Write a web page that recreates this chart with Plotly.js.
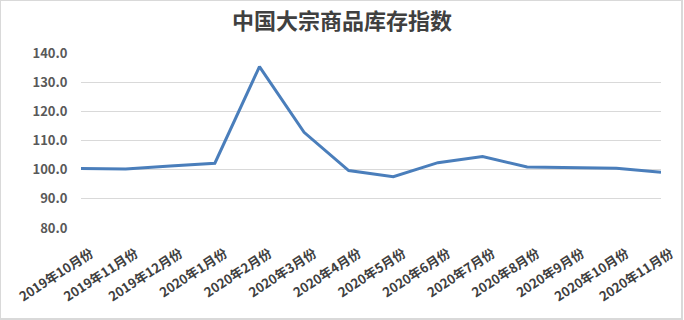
<!DOCTYPE html>
<html>
<head>
<meta charset="utf-8">
<script src="https://cdn.plot.ly/plotly-3.0.1.min.js"></script>
<style>
html,body{margin:0;padding:0;background:#fff;}
#wrap{position:absolute;left:0;top:0;width:680px;height:317px;border:1px solid #d9d9d9;border-width:1px 2px 2px 1px;}
#chart{position:absolute;left:-1px;top:-1px;width:684px;height:320px;}
</style>
</head>
<body>
<div id="wrap"><div id="chart"></div></div>
<script>
const categories = ["2019年10月份","2019年11月份","2019年12月份","2020年1月份","2020年2月份","2020年3月份","2020年4月份","2020年5月份","2020年6月份","2020年7月份","2020年8月份","2020年9月份","2020年10月份","2020年11月份"];
const values = [100.4, 100.2, 101.3, 102.2, 135.3, 112.8, 99.7, 97.6, 102.4, 104.5, 100.9, 100.6, 100.5, 99.1];
const yTicks = [80, 90, 100, 110, 120, 130, 140];

const font = '"Noto Sans CJK SC", "Liberation Sans", sans-serif';
Plotly.newPlot('chart', [{
  type: 'scatter', mode: 'lines',
  x: categories, y: values,
  line: {color: '#4a7ebb', width: 3},
  hoverinfo: 'skip'
}], {
  width: 684, height: 320,
  margin: {l: 81, r: 23, t: 53, b: 92},
  paper_bgcolor: 'rgba(0,0,0,0)', plot_bgcolor: 'rgba(0,0,0,0)',
  showlegend: false,
  title: {text: '中国大宗商品库存指数', x: 0.5, xanchor: 'center', y: 0.935, yanchor: 'middle',
          font: {family: font, size: 22, color: '#404040', weight: 'bold'}},
  xaxis: {type: 'category', tickangle: -33, showgrid: false, showline: false, zeroline: false,
          ticks: 'outside', ticklen: 12, tickcolor: 'rgba(0,0,0,0)', ticklabelshift: 10,
          tickfont: {family: font, size: 13, color: '#404040', weight: 'bold'}, automargin: false},
  yaxis: {range: [80, 140], tickvals: yTicks, tickformat: '.1f', showgrid: true, gridcolor: '#d9d9d9', gridwidth: 1,
          zeroline: false, showline: false, ticks: 'outside', ticklen: 10, tickcolor: 'rgba(0,0,0,0)',
          tickfont: {family: font, size: 13, color: '#595959', weight: 'bold'}, automargin: false}
}, {displayModeBar: false, staticPlot: true});
</script>
</body>
</html>
